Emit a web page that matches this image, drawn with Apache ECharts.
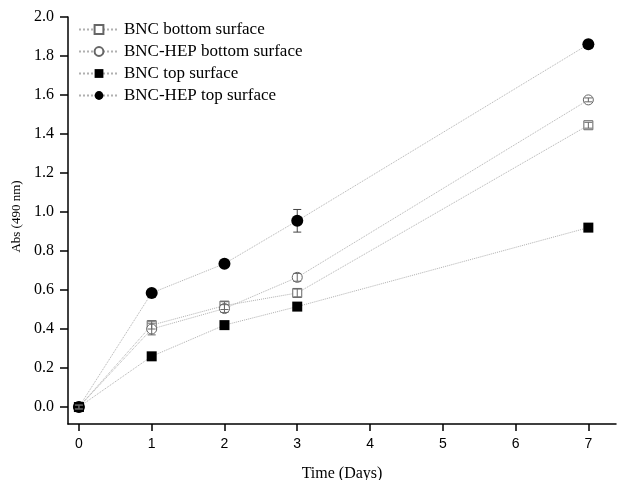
<!DOCTYPE html>
<html lang="en">
<head>
    <meta charset="UTF-8">
    <title>Abs (490 nm)</title>
    <style>
        html,body{
            padding: 0;margin: 0;background: #fff;
        }
        #chart{
            width: 617px;height: 480px;
        }
    </style>
    <script src="https://cdn.jsdelivr.net/npm/echarts@6/dist/echarts.min.js"></script>
</head>
<body>
<div id="chart"></div>
<script>
    var days = [0, 1, 2, 3, 7];
    var xTicks = [0, 1, 2, 3, 4, 5, 6, 7];
    var yTicks = [0, 0.2, 0.4, 0.6, 0.8, 1.0, 1.2, 1.4, 1.6, 1.8, 2.0];

    var bncBottom = [0, 0.42, 0.52, 0.585, 1.445];
    var bncBottomErr = [0.01, 0.02, 0.02, 0.02, 0.015];
    var hepBottom = [0, 0.40, 0.505, 0.665, 1.575];
    var hepBottomErr = [0.01, 0.03, 0.02, 0.02, 0.01];
    var bncTop = [0, 0.26, 0.42, 0.515, 0.92];
    var bncTopErr = [0.01, 0.01, 0.01, 0.01, 0.01];
    var hepTop = [0, 0.585, 0.735, 0.955, 1.86];
    var hepTopErr = [0.01, 0.01, 0.01, 0.058, 0.02];

    var serif = '"Liberation Serif", "Times New Roman", serif';
    var sans = '"Liberation Sans", Arial, sans-serif';

    function pts(vals){
        var out = [];
        for(var i = 0; i < days.length; i++){
            out.push([days[i], vals[i]]);
        }
        return out;
    }

    function errPts(vals, errs){
        var out = [];
        for(var i = 0; i < days.length; i++){
            out.push([days[i], vals[i] - errs[i], vals[i] + errs[i]]);
        }
        return out;
    }

    // error bars with small caps; z decides whether they sit over the marker
    function errSeries(vals, errs, color, z){
        return {
            type: 'custom',
            data: errPts(vals, errs),
            z: z,
            silent: true,
            renderItem: function(params, api){
                var lo = api.coord([api.value(0), api.value(1)]);
                var hi = api.coord([api.value(0), api.value(2)]);
                var w = 4;
                var st = {stroke: color, lineWidth: 1};
                return {
                    type: 'group',
                    children: [
                        {type: 'line', shape: {x1: lo[0], y1: lo[1], x2: hi[0], y2: hi[1]}, style: st},
                        {type: 'line', shape: {x1: lo[0] - w, y1: lo[1], x2: lo[0] + w, y2: lo[1]}, style: st},
                        {type: 'line', shape: {x1: hi[0] - w, y1: hi[1], x2: hi[0] + w, y2: hi[1]}, style: st}
                    ]
                };
            }
        };
    }

    function lineSeries(name, vals, symbol, size, filled){
        return {
            name: name,
            type: 'line',
            data: pts(vals),
            symbol: symbol,
            symbolSize: size,
            showAllSymbol: true,
            z: 2,
            lineStyle: {color: '#b0b0b0', width: 1, type: 'dotted'},
            itemStyle: filled ? {color: '#000', borderColor: '#000', borderWidth: 0}
                              : {color: '#fff', borderColor: '#666', borderWidth: 1},
            emphasis: {disabled: true}
        };
    }

    var myChart = echarts.init(document.getElementById('chart'));

    var option = {
        animation: false,
        backgroundColor: '#fff',
        grid: {left: 68, right: 1, top: 17, bottom: 56, outerBoundsMode: 'none'},
        legend: {
            left: 73, top: 16,
            orient: 'vertical',
            itemGap: 5,
            itemWidth: 40, itemHeight: 11,
            textStyle: {fontFamily: serif, fontSize: 17, color: '#000'},
            data: ['BNC bottom surface', 'BNC-HEP bottom surface', 'BNC top surface', 'BNC-HEP top surface']
        },
        xAxis: {
            type: 'value',
            min: -0.15, max: 7.38,
            name: 'Time (Days)',
            nameLocation: 'middle',
            nameGap: 42,
            nameTextStyle: {fontFamily: serif, fontSize: 16, color: '#000'},
            splitLine: {show: false},
            axisLine: {show: true, onZero: false, lineStyle: {color: '#000', width: 1.5}},
            axisTick: {show: true, length: 7, lineStyle: {color: '#000', width: 1.5}, customValues: xTicks},
            axisLabel: {fontFamily: sans, fontSize: 14, color: '#000', margin: 13, customValues: xTicks}
        },
        yAxis: {
            type: 'value',
            min: -0.087, max: 2.0,
            name: 'Abs (490 nm)',
            nameLocation: 'middle',
            nameGap: 44,
            nameTextStyle: {fontFamily: serif, fontSize: 13, color: '#000', padding: [0, 0, 0, 8]},
            splitLine: {show: false},
            axisLine: {show: true, onZero: false, lineStyle: {color: '#000', width: 1.5}},
            axisTick: {show: true, length: 8, lineStyle: {color: '#000', width: 1.5}, customValues: yTicks},
            axisLabel: {
                fontFamily: serif, fontSize: 16, color: '#000', margin: 14, customValues: yTicks,
                formatter: function(v){ return v.toFixed(1); }
            }
        },
        series: [
            lineSeries('BNC bottom surface', bncBottom, 'rect', 9, false),
            lineSeries('BNC-HEP bottom surface', hepBottom, 'circle', 10, false),
            lineSeries('BNC top surface', bncTop, 'rect', 10, true),
            lineSeries('BNC-HEP top surface', hepTop, 'circle', 12, true),
            errSeries(bncBottom, bncBottomErr, '#666', 3),
            errSeries(hepBottom, hepBottomErr, '#666', 3),
            errSeries(bncTop, bncTopErr, '#000', 1),
            errSeries(hepTop, hepTopErr, '#444', 1)
        ]
    };
    myChart.setOption(option);
</script>
</body>
</html>
